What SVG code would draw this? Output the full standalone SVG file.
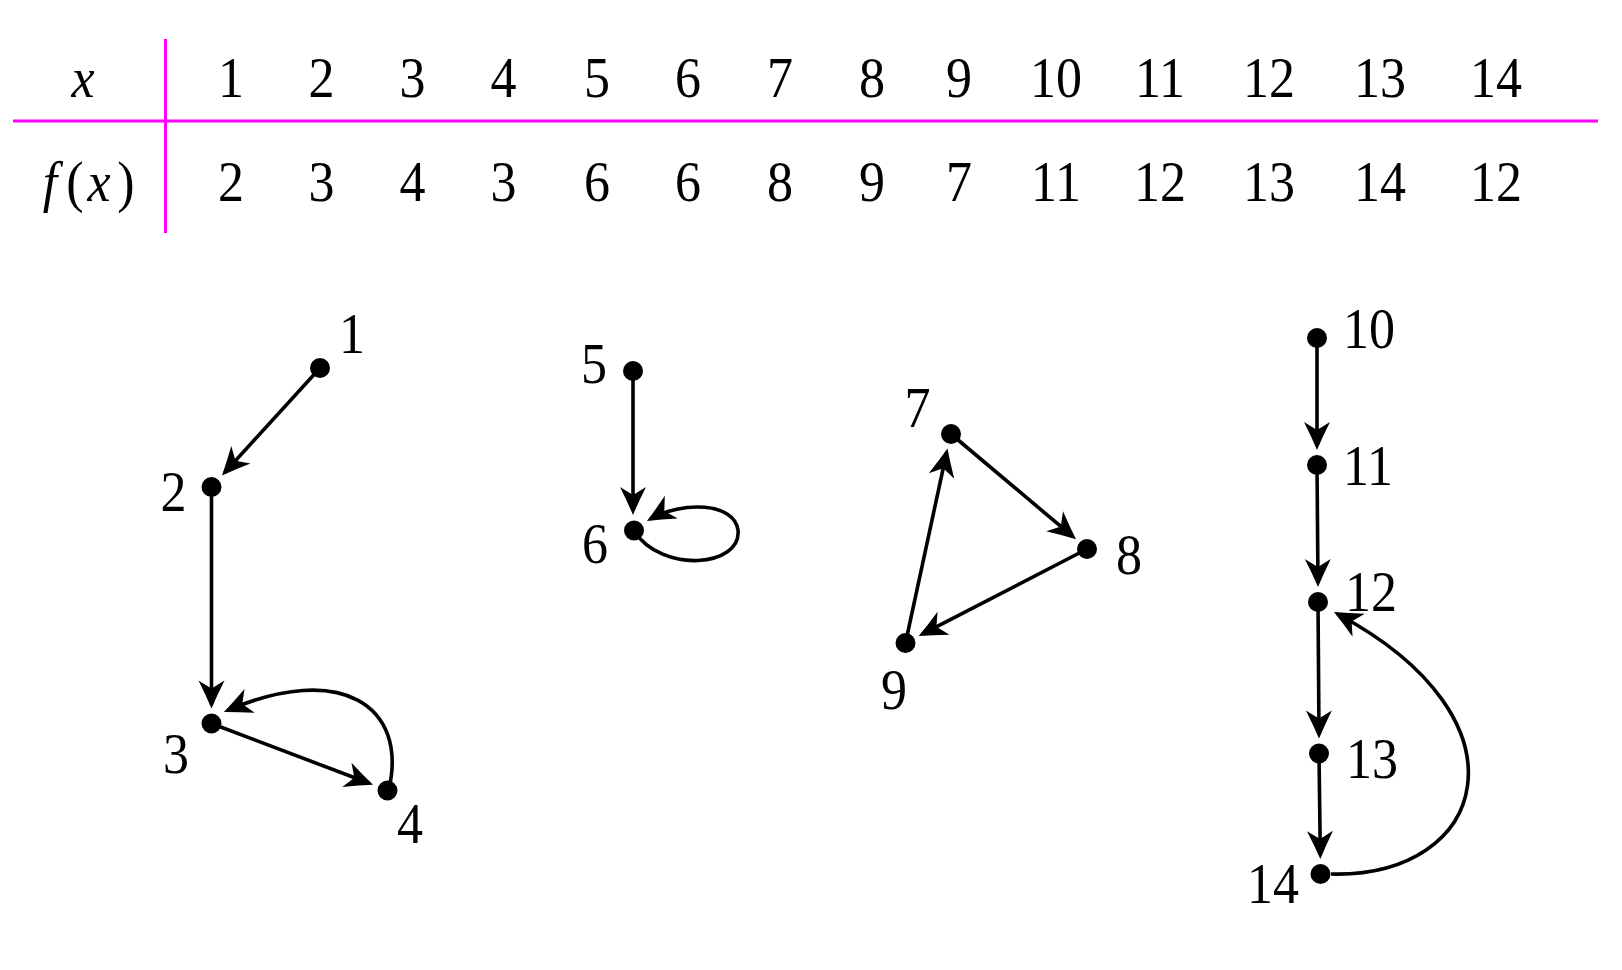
<svg xmlns="http://www.w3.org/2000/svg" width="1622" height="970" viewBox="0 0 1622 970">
<style>
.t{font-family:"Liberation Serif","Times New Roman",serif;font-size:52px;fill:#000;text-anchor:middle}
.i{font-style:italic}
.e{fill:none;stroke:#000;stroke-width:3.6;marker-end:url(#ah)}
.n{fill:#000}
.g{stroke:#ff00ff;stroke-width:3}
</style>
<defs>
<marker id="ah" markerUnits="userSpaceOnUse" markerWidth="32" markerHeight="30" viewBox="-30 -15 32 30" refX="-4" refY="0" orient="auto">
<path d="M0,0 Q-13,-5.5 -28,-13 L-20,0 L-28,13 Q-13,5.5 0,0 Z" fill="#000"/>
</marker>
</defs>
<rect width="1622" height="970" fill="#fff"/>
<g id="table">
<line class="g" x1="13" y1="121" x2="1598" y2="121"/>
<line class="g" x1="165.5" y1="39" x2="165.5" y2="233"/>
<text class="t i" transform="translate(83,97) scale(1,1.1)" font-size="56">x</text>
<g transform="translate(0,201) scale(1,1.1)">
<text class="t i" x="50" y="0" font-size="56">f</text>
<text class="t" x="75" y="0" font-size="58">(</text>
<text class="t i" x="99" y="0" font-size="56">x</text>
<text class="t" x="126" y="0" font-size="58">)</text>
</g>
<g transform="translate(0,97) scale(1,1.1)">
<text class="t" y="0"><tspan x="231">1</tspan><tspan x="321.5">2</tspan><tspan x="412.5">3</tspan><tspan x="503.5">4</tspan><tspan x="597">5</tspan><tspan x="688">6</tspan><tspan x="780">7</tspan><tspan x="872">8</tspan><tspan x="959">9</tspan><tspan x="1056">10</tspan><tspan x="1160">11</tspan><tspan x="1269">12</tspan><tspan x="1380">13</tspan><tspan x="1496">14</tspan></text>
</g>
<g transform="translate(0,201) scale(1,1.1)">
<text class="t" y="0"><tspan x="231">2</tspan><tspan x="321.5">3</tspan><tspan x="412.5">4</tspan><tspan x="503.5">3</tspan><tspan x="597">6</tspan><tspan x="688">6</tspan><tspan x="780">8</tspan><tspan x="872">9</tspan><tspan x="959">7</tspan><tspan x="1056">11</tspan><tspan x="1160">12</tspan><tspan x="1269">13</tspan><tspan x="1380">14</tspan><tspan x="1496">12</tspan></text>
</g>
</g>
<g id="connectors">
<path class="e" d="M320,368 L224.7,472.5"/>
<path class="e" d="M211.5,487 L211.5,704.5"/>
<path class="e" d="M211.5,723.5 L369.3,783.3"/>
<path class="e" d="M389,789 C408,705 340,662 227.6,710.4"/>
<path class="e" d="M633,371 L633,511"/>
<path class="e" d="M634,531 C662,574 742,567 738,530 C734,502 682,501 650.4,519"/>
<path class="e" d="M951,434 L1073,536.7"/>
<path class="e" d="M1087,549 L922.2,634.2"/>
<path class="e" d="M905.5,643 L946.6,452.5"/>
<path class="e" d="M1317,338 L1317,446"/>
<path class="e" d="M1317,465 L1318,583"/>
<path class="e" d="M1318,602 L1319,734.5"/>
<path class="e" d="M1319,753.5 L1320.3,855"/>
<path class="e" d="M1331,874 C1488,878 1536,720 1337.5,614"/>
</g>
<g id="n1"><circle class="n" cx="320" cy="368" r="10"/><text class="t" transform="translate(352,353) scale(1,1.1)">1</text></g>
<g id="n2"><circle class="n" cx="211.5" cy="487" r="10"/><text class="t" transform="translate(173.5,510.5) scale(1,1.1)">2</text></g>
<g id="n3"><circle class="n" cx="211.5" cy="723.5" r="10"/><text class="t" transform="translate(176,773) scale(1,1.1)">3</text></g>
<g id="n4"><circle class="n" cx="387.5" cy="790.5" r="10"/><text class="t" transform="translate(410,843) scale(1,1.1)">4</text></g>
<g id="n5"><circle class="n" cx="633" cy="371" r="10"/><text class="t" transform="translate(594,383) scale(1,1.1)">5</text></g>
<g id="n6"><circle class="n" cx="634" cy="530.5" r="10"/><text class="t" transform="translate(595,563) scale(1,1.1)">6</text></g>
<g id="n7"><circle class="n" cx="951" cy="434" r="10"/><text class="t" transform="translate(917.5,426.5) scale(1,1.1)">7</text></g>
<g id="n8"><circle class="n" cx="1087" cy="549" r="10"/><text class="t" transform="translate(1129,573.5) scale(1,1.1)">8</text></g>
<g id="n9"><circle class="n" cx="905.5" cy="643" r="10"/><text class="t" transform="translate(894,709) scale(1,1.1)">9</text></g>
<g id="n10"><circle class="n" cx="1317" cy="338" r="10"/><text class="t" transform="translate(1369,348) scale(1,1.1)">10</text></g>
<g id="n11"><circle class="n" cx="1317" cy="465" r="10"/><text class="t" transform="translate(1368,485) scale(1,1.1)">11</text></g>
<g id="n12"><circle class="n" cx="1318" cy="602" r="10"/><text class="t" transform="translate(1371,611) scale(1,1.1)">12</text></g>
<g id="n13"><circle class="n" cx="1319" cy="753.5" r="10"/><text class="t" transform="translate(1372,778) scale(1,1.1)">13</text></g>
<g id="n14"><circle class="n" cx="1320.5" cy="874" r="10"/><text class="t" transform="translate(1273,903) scale(1,1.1)">14</text></g>
</svg>
